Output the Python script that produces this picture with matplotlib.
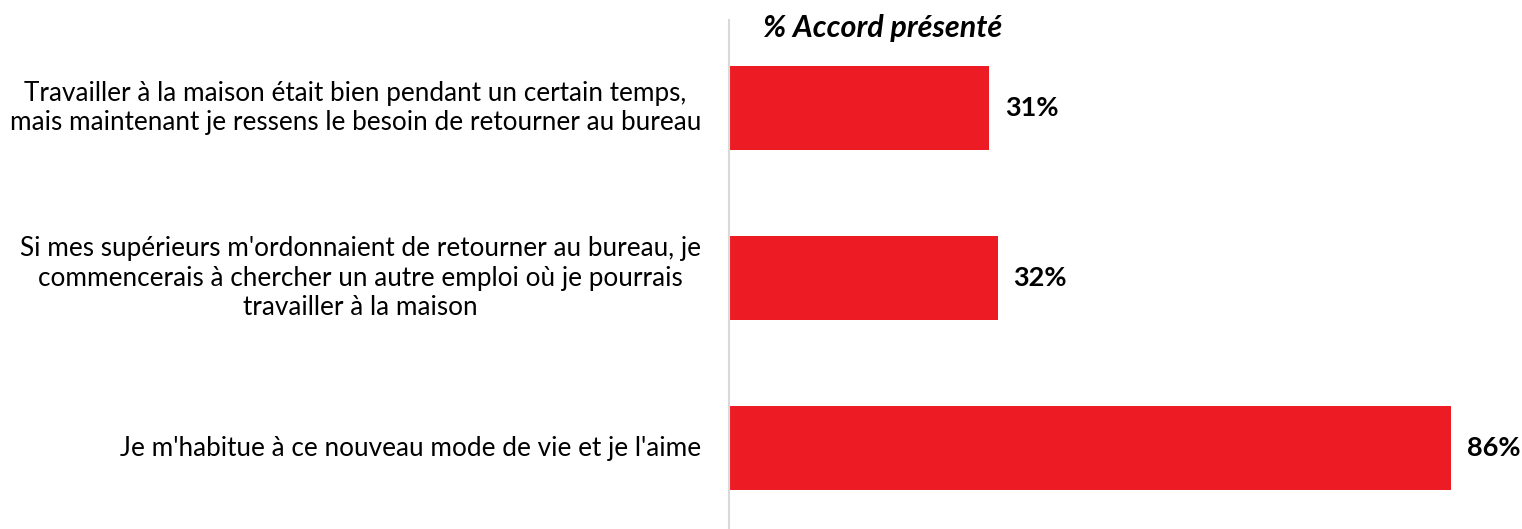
import matplotlib.pyplot as plt

plt.rcParams['font.family'] = ['Lato', 'DejaVu Sans']

labels = [
    "Travailler à la maison était bien pendant un certain temps,\nmais maintenant je ressens le besoin de retourner au bureau",
    "Si mes supérieurs m'ordonnaient de retourner au bureau, je\ncommencerais à chercher un autre emploi où je pourrais\ntravailler à la maison",
    "Je m'habitue à ce nouveau mode de vie et je l'aime",
]
values = [31, 32, 86]
bar_color = "#ED1C24"

fig = plt.figure(figsize=(15.22, 5.29), dpi=100)
ax = fig.add_axes([729 / 1522, 0, 1 - 729 / 1522, 1 - 20 / 529])

pos = range(len(values))
ax.barh(pos, values, height=0.494, color=bar_color)
ax.set_xlim(0, 793 / 8.395)
ax.set_ylim(2.476, -0.518)

for p, v in zip(pos, values):
    ax.annotate(f"{v}%", (v, p), xytext=(11.5, 0), textcoords="offset points",
                ha="left", va="center", fontsize=19.5, fontweight="bold")

for p, lab in zip(pos, labels):
    ax.annotate(lab, (0, p), xytext=(-20, 0), textcoords="offset points",
                ha="right", va="center", multialignment="center",
                fontsize=18.8, linespacing=1.22, annotation_clip=False)

for s in ["top", "right", "bottom"]:
    ax.spines[s].set_visible(False)
ax.spines["left"].set_color("#d9d9d9")
ax.spines["left"].set_linewidth(1.5)
ax.set_xticks([])
ax.set_yticks([])

fig.text(883 / 1522, 1 - 28 / 529, "% Accord présenté", ha="center", va="center",
         fontsize=22, fontweight="bold", fontstyle="italic")

fig.savefig("out.png", dpi=100)
